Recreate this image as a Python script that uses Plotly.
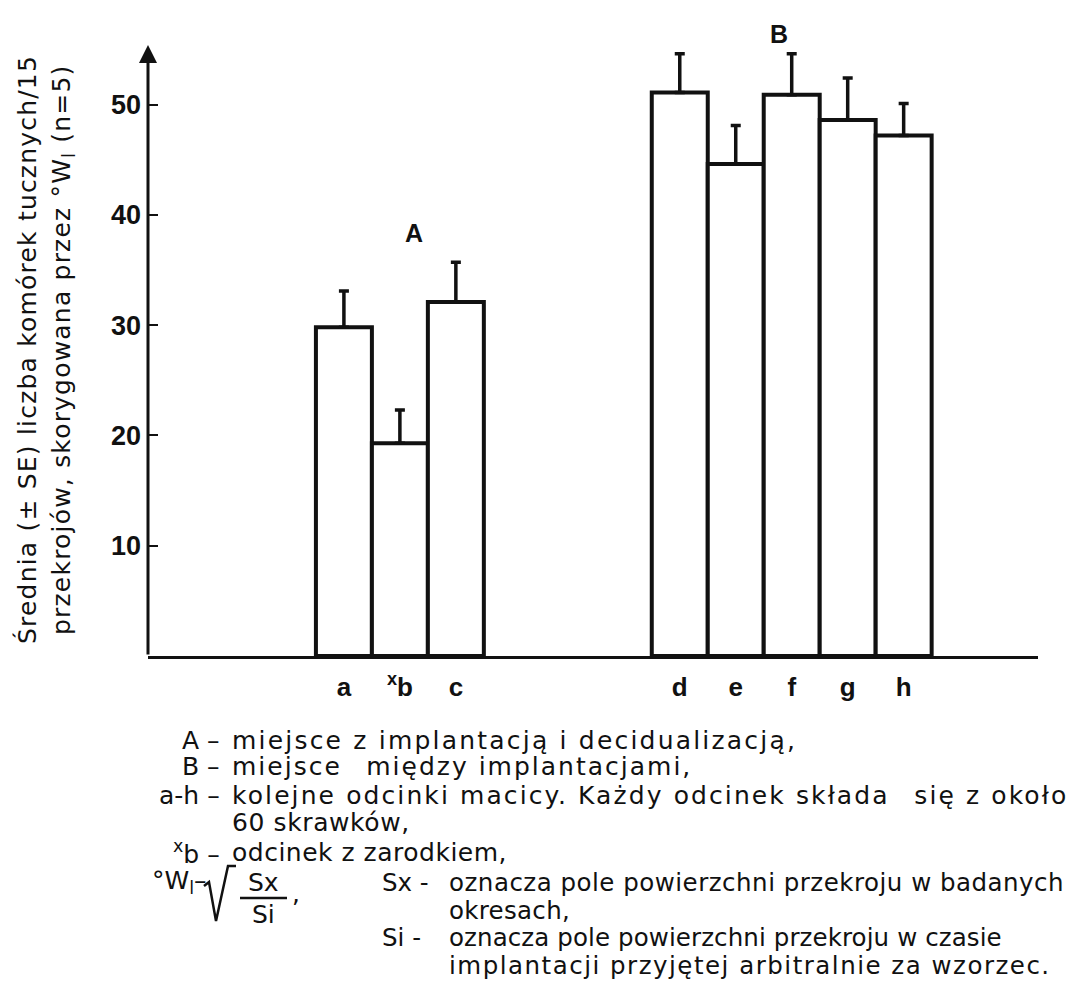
import plotly.graph_objects as go

# ---- data ----
categories = ["a", "b", "c", "d", "e", "f", "g", "h"]
tick_labels = ["a", "<sup>x</sup>b", "c", "d", "e", "f", "g", "h"]
positions = [0, 1, 2, 6, 7, 8, 9, 10]
means = [29.8, 19.3, 32.1, 51.1, 44.6, 50.9, 48.6, 47.2]
se = [3.3, 3.0, 3.6, 3.5, 3.5, 3.7, 3.8, 2.9]
y_ticks = [10, 20, 30, 40, 50]
group_labels = ["A", "B"]

y_title_1 = "Średnia (± SE) liczba komórek tucznych/15"
y_title_2 = "przekrojów, skorygowana przez °W<sub>l</sub> (n=5)"

notes = [
    ("A –", "miejsce z implantacją i decidualizacją,"),
    ("B –", "miejsce  między implantacjami,"),
    ("a-h –", "kolejne odcinki macicy. Każdy odcinek składa  się z około"),
    ("", "60 skrawków,"),
    ("<sup>x</sup>b –", "odcinek z zarodkiem,"),
]
sub_notes = [
    ("Sx -", "oznacza pole powierzchni przekroju w badanych"),
    ("", "okresach,"),
    ("Si -", "oznacza pole powierzchni przekroju w czasie"),
    ("", "implantacji przyjętej arbitralnie za wzorzec."),
]

# ---- layout geometry (page pixels; the page body adds an 8px offset) ----
OFF = 8
W, H = 1077 - OFF, 993 - OFF
L, R, T, B = 148 - OFF, 39, 45 - OFF, 337
PW = W - L - R
PH = H - T - B
X_RANGE = [-3.5, 12.4]
Y_RANGE = [0, 55.4]


def px(xp):
    return (xp - OFF - L) / PW


def py(yp):
    return (H - B - (yp - OFF)) / PH


def spaced(s, ls):
    s = s.replace("  ", " \u2002")
    if ls:
        return f'<span style="letter-spacing:{ls}px">{s}</span>'
    return s


FONT = "Liberation Sans"
NOTE_FONT = "DejaVu Sans"
BLACK = "#111111"

fig = go.Figure()
fig.add_trace(go.Bar(
    x=positions, y=means, width=1.0,
    marker=dict(color="white", line=dict(color=BLACK, width=4)),
    error_y=dict(type="data", array=se, arrayminus=[0] * len(se), symmetric=False,
                 color=BLACK, thickness=3.5, width=5),
    showlegend=False,
))

fig.update_layout(
    width=W, height=H,
    margin=dict(l=L, r=R, t=T, b=B),
    paper_bgcolor="white", plot_bgcolor="white",
    font=dict(family=FONT, color=BLACK),
    xaxis=dict(range=X_RANGE, tickvals=positions, ticktext=tick_labels,
               showline=True, linecolor=BLACK, linewidth=3, ticks="",
               showgrid=False, zeroline=False,
               tickfont=dict(size=26, family=FONT, weight="bold"), ticklabelstandoff=6),
    yaxis=dict(range=Y_RANGE, tickvals=y_ticks, showline=False,
               ticks="inside", ticklen=10, tickwidth=2, tickcolor=BLACK,
               showgrid=False, zeroline=False,
               tickfont=dict(size=27, family=FONT, weight="bold"), ticklabelstandoff=6),
)

# y axis with arrow
fig.add_annotation(x=X_RANGE[0], y=Y_RANGE[1], ax=X_RANGE[0], ay=0,
                   xref="x", yref="y", axref="x", ayref="y",
                   showarrow=True, arrowhead=2, arrowsize=1.2, arrowwidth=3,
                   arrowcolor=BLACK, text="")

# axis titles
TF = dict(size=25, family=NOTE_FONT)
fig.add_annotation(x=px(27), y=py(350), xref="paper", yref="paper",
                   text=spaced(y_title_1, 1.2), textangle=-90, showarrow=False,
                   font=TF, xanchor="center", yanchor="middle")
fig.add_annotation(x=px(63), y=py(350), xref="paper", yref="paper",
                   text=spaced(y_title_2, 1.2), textangle=-90, showarrow=False,
                   font=TF, xanchor="center", yanchor="middle")

# group labels
fig.add_annotation(x=px(403), y=py(217), xref="paper", yref="paper", text=group_labels[0],
                   showarrow=False, font=dict(size=25, family=FONT, weight="bold"))
fig.add_annotation(x=px(790), y=py(18), xref="paper", yref="paper", text=group_labels[1],
                   showarrow=False, font=dict(size=25, family=FONT, weight="bold"))

# notes
NF = dict(size=25, family=NOTE_FONT)
note_y = [740, 766, 795, 822, 852]
note_ls = [2.2, 2.0, 2.1, 0.6, 0.5]
for (k, v), yy, ls in zip(notes, note_y, note_ls):
    if k:
        fig.add_annotation(x=px(222), y=py(yy), xref="paper", yref="paper", text=k,
                           showarrow=False, xanchor="right", yanchor="middle", font=NF)
    fig.add_annotation(x=px(230), y=py(yy), xref="paper", yref="paper", text=spaced(v, ls),
                       showarrow=False, xanchor="left", yanchor="middle", font=NF)

# formula  °W_l = sqrt(Sx / Si)
fig.add_annotation(x=px(150), y=py(882), xref="paper", yref="paper",
                   text="°W<sub>l</sub>–", showarrow=False, xanchor="left",
                   yanchor="middle", font=NF)
fig.add_annotation(x=px(263), y=py(882), xref="paper", yref="paper", text="Sx",
                   showarrow=False, xanchor="center", yanchor="middle", font=NF)
fig.add_annotation(x=px(263), y=py(914), xref="paper", yref="paper", text="Si",
                   showarrow=False, xanchor="center", yanchor="middle", font=NF)
fig.add_annotation(x=px(290), y=py(893), xref="paper", yref="paper", text=",",
                   showarrow=False, xanchor="left", yanchor="middle", font=NF)
fig.add_shape(type="line", xref="paper", yref="paper",
              x0=px(240), x1=px(287), y0=py(898), y1=py(898),
              line=dict(color=BLACK, width=2.5))
fig.add_shape(type="path", xref="paper", yref="paper",
              path=f"M {px(204)} {py(886)} L {px(209)} {py(882)} L {px(216)} {py(921)} "
                   f"L {px(228)} {py(866)} L {px(236)} {py(866)}",
              line=dict(color=BLACK, width=2.5))

SF = dict(size=24.5, family=NOTE_FONT)
sub_y = [882, 910, 937, 965]
sub_ls = [0.5, 0.3, 0.1, 1.5]
for (k, v), yy, ls in zip(sub_notes, sub_y, sub_ls):
    if k:
        fig.add_annotation(x=px(380), y=py(yy), xref="paper", yref="paper", text=k,
                           showarrow=False, xanchor="left", yanchor="middle", font=SF)
    fig.add_annotation(x=px(447), y=py(yy), xref="paper", yref="paper", text=spaced(v, ls),
                       showarrow=False, xanchor="left", yanchor="middle", font=SF)

fig.write_html("out.html")
